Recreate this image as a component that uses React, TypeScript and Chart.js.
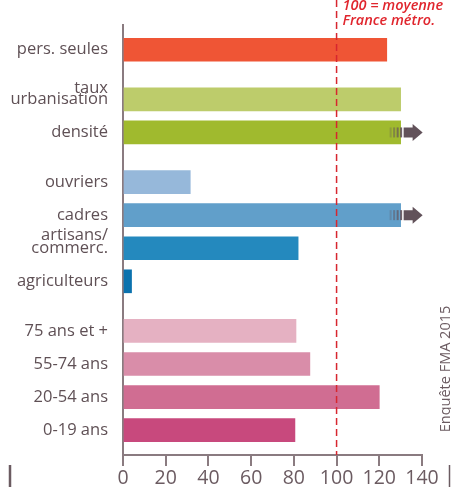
import React, { useEffect, useRef } from 'react';
import { Chart, registerables } from 'chart.js';

Chart.register(...registerables);

// ---------- data ----------
const categories: (string | string[])[] = [
  'pers. seules',
  ['taux', 'urbanisation', ''],
  'densité',
  'ouvriers',
  'cadres',
  ['artisans/', 'commerc.', ''],
  'agriculteurs',
  '75 ans et +',
  '55-74 ans',
  '20-54 ans',
  '0-19 ans',
];
const groups = [0, 1, 1, 2, 2, 2, 2, 3, 3, 3, 3];
const values = [123.5, 130, 130, 31.5, 130, 82, 4, 81, 87.5, 120, 80.5];
const beyondScale = [false, false, true, false, true, false, false, false, false, false, false];
const barColors = [
  '#EF5535',
  '#BDCC6B',
  '#A0BA2E',
  '#96B8DA',
  '#619FCA',
  '#2489BE',
  '#0B72AE',
  '#E5B1C2',
  '#D98DA9',
  '#D06D92',
  '#C8497D',
];
const xMin = 0;
const xMax = 140;
const xStep = 20;
const referenceValue = 100;
const referenceNote = ['100 = moyenne', 'France métro.'];
const sourceNote = 'Enquête FMA 2015';

// ---------- build category table with spacer rows ----------
const rowLabels: (string | string[])[] = [''];
const rowValues: (number | null)[] = [null];
const rowColors: string[] = ['transparent'];
const rowBeyond: boolean[] = [false];
categories.forEach((c, i) => {
  if (i > 0) {
    rowLabels.push(''); rowValues.push(null); rowColors.push('transparent'); rowBeyond.push(false);
    if (groups[i] !== groups[i - 1]) {
      rowLabels.push(''); rowValues.push(null); rowColors.push('transparent'); rowBeyond.push(false);
    }
  }
  rowLabels.push(c);
  rowValues.push(values[i]);
  rowColors.push(barColors[i]);
  rowBeyond.push(beyondScale[i]);
});
rowLabels.push(''); rowValues.push(null); rowColors.push('transparent'); rowBeyond.push(false);

const TEXT = '#5F5055';
const AXIS = '#8A7B80';
const FONT = "'Open Sans', 'DejaVu Sans', sans-serif";

const decorations = {
  id: 'decorations',
  afterDatasetsDraw(chart: any) {
    const ctx: CanvasRenderingContext2D = chart.ctx;
    const xs = chart.scales.x;
    const area = chart.chartArea;
    const meta = chart.getDatasetMeta(0);

    // overflow arrows
    meta.data.forEach((bar: any, i: number) => {
      if (!rowBeyond[i]) return;
      const { x: end, y: cy } = bar.getProps(['x', 'y'], true);
      ctx.save();
      for (let s = 0; s < 4; s++) {
        ctx.fillStyle = `rgba(98,82,90,${0.3 + s * 0.2})`;
        ctx.fillRect(end - 11 + s * 3.5, cy - 5, 2, 10);
      }
      ctx.fillStyle = '#62525A';
      ctx.beginPath();
      ctx.moveTo(end + 3, cy - 5);
      ctx.lineTo(end + 12, cy - 5);
      ctx.lineTo(end + 12, cy - 8.5);
      ctx.lineTo(end + 22, cy);
      ctx.lineTo(end + 12, cy + 8.5);
      ctx.lineTo(end + 12, cy + 5);
      ctx.lineTo(end + 3, cy + 5);
      ctx.closePath();
      ctx.fill();
      ctx.restore();
    });

    // reference dashed line
    const px = xs.getPixelForValue(referenceValue);
    ctx.save();
    ctx.strokeStyle = '#D7262F';
    ctx.lineWidth = 1.5;
    ctx.setLineDash([7, 4]);
    ctx.beginPath();
    ctx.moveTo(px, 0);
    ctx.lineTo(px, area.bottom);
    ctx.stroke();
    ctx.restore();

    // reference note
    ctx.save();
    ctx.fillStyle = '#E0252D';
    ctx.font = `italic 600 14.5px ${FONT}`;
    ctx.textAlign = 'left';
    ctx.textBaseline = 'alphabetic';
    ctx.fillText(referenceNote[0], px + 6, 9.5);
    ctx.fillText(referenceNote[1], px + 6, 25);
    ctx.restore();

    // source note (vertical)
    ctx.save();
    ctx.fillStyle = '#6B5B61';
    ctx.font = `14.5px ${FONT}`;
    ctx.translate(450, 369);
    ctx.rotate(-Math.PI / 2);
    ctx.textAlign = 'center';
    ctx.textBaseline = 'alphabetic';
    ctx.fillText(sourceNote, 0, 0);
    ctx.restore();

    // page marks at the bottom
    ctx.save();
    ctx.strokeStyle = '#6B5B61';
    ctx.lineWidth = 2.5;
    ctx.beginPath();
    ctx.moveTo(10, 465);
    ctx.lineTo(10, 487);
    ctx.stroke();
    ctx.lineWidth = 1.5;
    ctx.beginPath();
    ctx.moveTo(449.5, 465);
    ctx.lineTo(449.5, 487);
    ctx.stroke();
    ctx.restore();
  },
};

export default function App() {
  const ref = useRef<HTMLCanvasElement>(null);
  useEffect(() => {
    if (!ref.current) return;
    const chart = new Chart(ref.current, {
      type: 'bar',
      data: {
        labels: rowLabels as any,
        datasets: [
          {
            data: rowValues as any,
            backgroundColor: rowColors,
            barThickness: 23,
            borderWidth: 0,
          },
        ],
      },
      options: {
        indexAxis: 'y',
        responsive: false,
        animation: false,
        layout: { padding: { left: 0, right: 29, top: 19, bottom: 0 } },
        plugins: { legend: { display: false }, tooltip: { enabled: false } },
        scales: {
          x: {
            min: xMin,
            max: xMax,
            ticks: {
              stepSize: xStep,
              color: '#6B5B61',
              font: { family: FONT, size: 19.5 },
              padding: 1,
            },
            grid: {
              display: true,
              drawOnChartArea: false,
              drawTicks: true,
              tickLength: 11,
              color: AXIS,
              lineWidth: 2,
            },
            border: { display: true, color: AXIS, width: 2 },
            afterFit: (s: any) => {
              s.height = 32;
            },
          },
          y: {
            grid: { display: false, drawTicks: false },
            border: { display: true, color: AXIS, width: 2 },
            ticks: {
              autoSkip: false,
              padding: 15,
              color: TEXT,
              font: (c: any) => {
                const lbl = rowLabels[c.index];
                let lh = 1.2;
                if (Array.isArray(lbl)) lh = lbl[0] === 'taux' ? 0.67 : 0.8;
                return { family: FONT, size: 16.5, lineHeight: lh };
              },
            },
            afterFit: (s: any) => {
              s.width = 123;
            },
          },
        },
      },
      plugins: [decorations],
    } as any);
    return () => chart.destroy();
  }, []);
  return (
    <div style={{ position: 'absolute', left: 0, top: 0, width: 451, height: 487 }}>
      <canvas ref={ref} width={451} height={487} style={{ display: 'block', width: 451, height: 487 }} />
    </div>
  );
}
